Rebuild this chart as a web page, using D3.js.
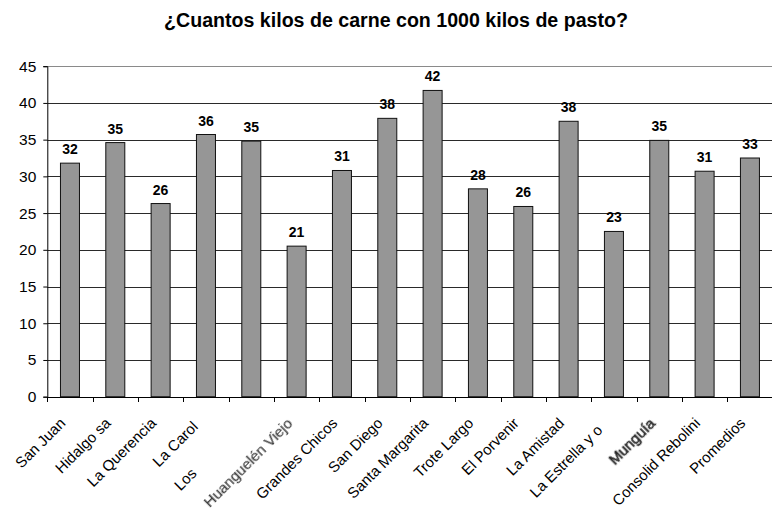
<!DOCTYPE html>
<html>
<head>
<meta charset="utf-8">
<script src="https://cdn.jsdelivr.net/npm/d3@7"></script>
<style>
  html, body { margin: 0; padding: 0; background: #fff; }
  svg { display: block; }
  text { font-family: Arial, "Liberation Sans", sans-serif; }
</style>
</head>
<body>
<svg id="chart" width="772" height="508"></svg>
<script>
// Kilos de carne por cada 1000 kilos de pasto, por establecimiento
const titleText = "¿Cuantos kilos de carne con 1000 kilos de pasto?";
const categories = [
  "San Juan", "Hidalgo sa", "La Querencia", "La Carol", "Los",
  "Huanguelén Viejo", "Grandes Chicos", "San Diego", "Santa Margarita",
  "Trote Largo", "El Porvenir", "La Amistad", "La Estrella y o",
  "Munguía", "Consolid Rebolini", "Promedios"
];
const kilos = [
  31.8, 34.6, 26.3, 35.7, 34.8,
  20.5, 30.8, 37.9, 41.7,
  28.3, 25.9, 37.5, 22.5,
  34.9, 30.7, 32.5
];
const yTicks = [0, 5, 10, 15, 20, 25, 30, 35, 40, 45];

const svg = d3.select("#chart");
const plot = { left: 47.3, right: 772.6, top: 66.2, bottom: 396.7 };

const x = d3.scaleBand()
  .domain(categories)
  .range([plot.left, plot.right])
  .paddingInner(0)
  .paddingOuter(0);

const y = d3.scaleLinear()
  .domain([0, 45])
  .range([plot.bottom, plot.top]);

const barW = 19;

// Title
svg.append("text")
  .attr("x", 396)
  .attr("y", 27)
  .attr("text-anchor", "middle")
  .attr("font-size", 19.6)
  .attr("font-weight", "bold")
  .attr("fill", "#000")
  .text(titleText);

// Horizontal gridlines
svg.append("g")
  .selectAll("line")
  .data(yTicks.filter(d => d > 0))
  .join("line")
  .attr("x1", plot.left)
  .attr("x2", 772)
  .attr("y1", d => Math.round(y(d)) + 0.5)
  .attr("y2", d => Math.round(y(d)) + 0.5)
  .attr("stroke", d => d === 45 ? "#8a8a8a" : "#2a2a2a")
  .attr("stroke-width", 1);

// Bars
svg.append("g")
  .selectAll("rect")
  .data(categories)
  .join("rect")
  .attr("x", (d) => x(d) + x.bandwidth() / 2 - barW / 2)
  .attr("y", (d, i) => y(kilos[i]))
  .attr("width", barW)
  .attr("height", (d, i) => y(0) - y(kilos[i]))
  .attr("fill", "#969696")
  .attr("stroke", "#111")
  .attr("stroke-width", 1);

// Value labels above the bars
svg.append("g")
  .selectAll("text")
  .data(categories)
  .join("text")
  .attr("x", d => x(d) + x.bandwidth() / 2)
  .attr("y", (d, i) => y(kilos[i]) - 9)
  .attr("text-anchor", "middle")
  .attr("font-size", 14)
  .attr("font-weight", "bold")
  .attr("fill", "#000")
  .text((d, i) => d3.format(".0f")(kilos[i]));

// Y axis
const yAxis = svg.append("g")
  .attr("transform", `translate(${plot.left},0)`)
  .call(d3.axisLeft(y).tickValues(yTicks).tickSize(4).tickPadding(7).tickFormat(d3.format("d")));
yAxis.select(".domain").attr("stroke", "#000");
yAxis.selectAll(".tick line").attr("stroke", "#000");
yAxis.selectAll(".tick text")
  .attr("font-size", 15.5)
  .attr("fill", "#000")
  .attr("font-family", "Arial, 'Liberation Sans', sans-serif");

// X axis: baseline, tick marks between categories
const xg = svg.append("g");
xg.append("line")
  .attr("x1", plot.left).attr("x2", 772)
  .attr("y1", Math.round(y(0)) + 0.5).attr("y2", Math.round(y(0)) + 0.5)
  .attr("stroke", "#000");
const bounds = categories.map(c => x(c)).concat([plot.right]);
xg.selectAll("line.tk")
  .data(bounds)
  .join("line")
  .attr("class", "tk")
  .attr("x1", d => Math.round(d) + 0.5).attr("x2", d => Math.round(d) + 0.5)
  .attr("y1", Math.round(y(0)))
  .attr("y2", Math.round(y(0)) + 5)
  .attr("stroke", "#000");

// Category labels, rotated 45 degrees and ending under each bar
const shiftAlong = { "Los": -71, "La Carol": -5, "La Estrella y o": -10 };
// Two labels are drawn softened in gray
const softStyle = {
  "Huanguelén Viejo": { fill: "#3c3c3c", stroke: 0.2, blur: 0.55 },
  "Munguía": { fill: "#2a2a2a", stroke: 0.6, blur: 0.65 }
};

const defs = svg.append("defs");
Object.entries(softStyle).forEach(([name, s], i) => {
  defs.append("filter").attr("id", "soft" + i)
    .attr("x", "-25%").attr("y", "-60%").attr("width", "150%").attr("height", "220%")
    .append("feGaussianBlur").attr("stdDeviation", s.blur);
  s.id = "soft" + i;
});

xg.selectAll("text.cat")
  .data(categories)
  .join("text")
  .attr("class", "cat")
  .attr("transform", d => {
    const cx = x(d) + x.bandwidth() / 2 - 11;
    return `translate(${cx},${y(0) + 20}) rotate(-45) translate(${shiftAlong[d] || 0},0)`;
  })
  .attr("dy", "0.7em")
  .attr("text-anchor", "end")
  .attr("font-size", 15)
  .attr("fill", d => softStyle[d] ? softStyle[d].fill : "#000")
  .attr("stroke", d => softStyle[d] && softStyle[d].stroke ? softStyle[d].fill : null)
  .attr("stroke-width", d => softStyle[d] && softStyle[d].stroke ? softStyle[d].stroke : null)
  .attr("filter", d => softStyle[d] ? `url(#${softStyle[d].id})` : null)
  .text(d => d);
</script>
</body>
</html>
